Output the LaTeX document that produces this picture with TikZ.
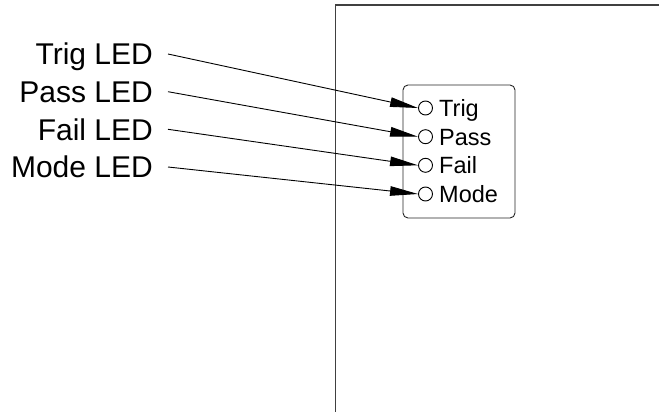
\documentclass[tikz,border=0pt]{standalone}
\usepackage{fontspec}
\setmainfont{Liberation Sans}
\usetikzlibrary{arrows.meta,positioning}
\tikzset{
    >={Triangle[length=28pt,width=9.5pt]},
    ledlabel/.style={
        anchor=east,
        inner xsep=15pt,
        inner ysep=0pt,
        text height=21.5pt,
        text depth=0pt,
        font={\fontsize{30pt}{31pt}\selectfont}
    },
    ledname/.style={
        anchor=west,
        inner sep=0pt,
        text height=17pt,
        text depth=0pt,
        font={\fontsize{23.5pt}{24pt}\selectfont}
    },
    led/.style={circle, draw, line width=0.9pt, minimum size=14pt, inner sep=0pt},
    panel/.style={draw=black!85, line width=0.9pt, rounded corners=5pt},
    frame/.style={draw=black!75, line width=1.5pt},
    wire/.style={draw, line width=0.9pt, ->},
}

\begin{document}
\begin{tikzpicture}[x=1pt, y=-1pt]
\useasboundingbox (0,0) rectangle (659,412);
% housing
\draw[frame] (335.5,412) -- (335.5,5) -- (659,5);
\draw[panel] (403,85) rectangle (515,218);

\node[led] (trig) at (425.5,108) {};
\node[led] (pass) at (425.5,136.7) {};
\node[led] (fail) at (425.5,165.3) {};
\node[led] (mode) at (425.5,194) {};
\node[ledname] (trigtext) at (439,108) {Trig};
\node[ledname] (passtext) at (439,136.7) {Pass};
\node[ledname] (failtext) at (439,165.3) {Fail};
\node[ledname] (modetext) at (439,194) {Mode};

\node[ledlabel] (trigled) at (168,54) {Trig LED};
\node[ledlabel] (passled) at (168,91.7) {Pass LED};
\node[ledlabel] (failled) at (168,129.3) {Fail LED};
\node[ledlabel] (modeled) at (168,167) {Mode LED};

\draw[wire] (trigled.east) -- (trig.west);
\draw[wire] (passled.east) -- (pass.west);
\draw[wire] (failled.east) -- (fail.west);
\draw[wire] (modeled.east) -- (mode.west);
\end{tikzpicture}
\end{document}
